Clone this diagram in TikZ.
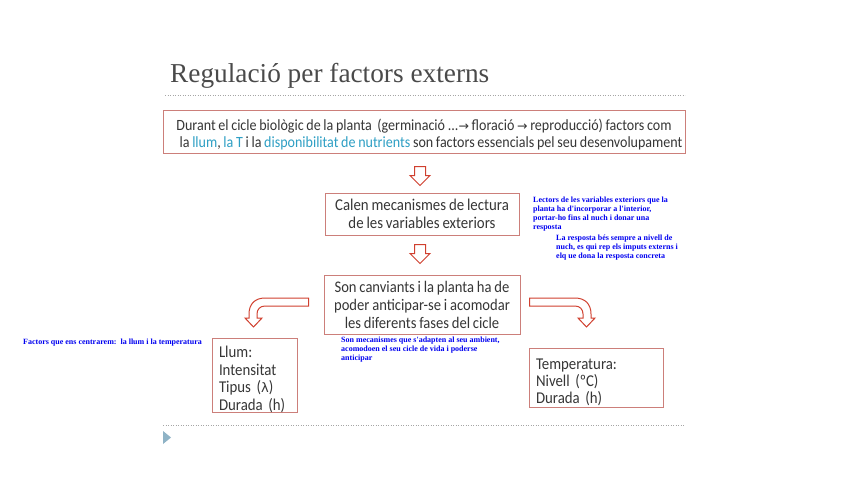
\documentclass[tikz,border=0pt]{standalone}
\usepackage{fontspec}
\setmainfont{Carlito}[FakeStretch=0.9, WordSpace=0.85]
\newfontfamily\titlefont{Liberation Serif}
\newfontfamily\notefont{Liberation Serif}
\newfontfamily\symfont{DejaVu Sans}
\usetikzlibrary{calc}
\definecolor{boxred}{HTML}{CC7F7A}
\definecolor{arrred}{HTML}{D0402F}
\definecolor{txtgray}{HTML}{363636}
\definecolor{teal}{HTML}{2E9FC4}
\definecolor{titlegray}{HTML}{4A4A4A}
\definecolor{noteblue}{HTML}{0000F0}
\definecolor{tri}{HTML}{8FB3C6}
\tikzset{
  mainbox/.style={draw=boxred, line width=1pt, inner sep=0pt, align=center, text=txtgray},
  listbox/.style={draw=boxred, line width=1pt, inner xsep=7pt, inner ysep=0pt, align=left, text=txtgray},
  harrow/.style={draw=arrred, line width=1pt, fill=white, line join=miter},
  dotline/.style={draw=black!35, line width=0.8pt, dash pattern=on 1.2pt off 1.3pt},
  note/.style={text=noteblue, font=\notefont\bfseries\fontsize{8}{9}\selectfont, align=left, inner sep=0pt, anchor=north west}
}
\newcommand\hollowdown[1]{%
  \path[harrow] ($(#1)+(-5.5,0)$) -- ++(0,9) -- ++(-4.5,0) -- ++(10,10) -- ++(10,-10) -- ++(-4.5,0) -- ++(0,-9) -- cycle;}
\newcommand\rarr{{\symfont\fontsize{12.5}{17}\selectfont →}}
\begin{document}
\begin{tikzpicture}[x=1pt,y=-1pt]
\useasboundingbox[fill=white] (0,0) rectangle (848,477);

% title
\node[anchor=base west, inner sep=0pt, text=titlegray, font=\titlefont\fontsize{27.3}{30}\selectfont] (title) at (170,82) {Regulació per factors externs};
\coordinate (d1a) at (165,95);
\coordinate (d1b) at (685,95);
\draw[dotline] (d1a) -- (d1b);

% box 1
\node[mainbox, minimum width=522pt, minimum height=43pt, font=\fontsize{15.6}{17}\selectfont] (b1) at (424,131.5)
{\rule{0pt}{17pt}Durant el cicle biològic de la planta\ \ (germinació ...\rarr\ floració \rarr\ reproducció) factors com\\
\hspace*{14pt}la \textcolor{teal}{llum}, \textcolor{teal}{la T} i la \textcolor{teal}{disponibilitat de nutrients} son factors essencials pel seu desenvolupament};

% box 2
\node[mainbox, minimum width=194pt, minimum height=42pt, font=\fontsize{16.5}{18}\selectfont] (b2) at (422,214)
{Calen mecanismes de lectura\\de les variables exteriors};

% box 3
\node[mainbox, minimum width=196pt, minimum height=59pt, font=\fontsize{16.2}{18}\selectfont] (b3) at (422,304.5)
{Son canviants i la planta ha de\\poder anticipar-se i acomodar\\les diferents fases del cicle};

% list boxes
\node[listbox, minimum width=85pt, minimum height=71pt, text width=71pt, font=\fontsize{16.5}{17.5}\selectfont] (llum) at (254.5,375.5)
{\rule{0pt}{19pt}Llum:\\Intensitat\\Tipus ({\symfont\fontsize{13}{17}\selectfont λ})\\Durada (h)};
\node[listbox, minimum width=134pt, minimum height=59pt, text width=120pt, font=\fontsize{16.5}{17}\selectfont] (temp) at (596,377.5)
{\rule{0pt}{20pt}Temperatura:\\Nivell (ºC)\\Durada (h)};

% down arrows between boxes
\coordinate (a1) at ($(b1.south)+(-4,13)$);
\hollowdown{a1}
\coordinate (a2) at ($(b2.south)+(-2,9)$);
\hollowdown{a2}

% curved arrows
\coordinate (lstart) at ($(b3.west)+(-15,0)$);
\path[harrow] ($(lstart)+(0,-6.5)$) -- (265,298) .. controls (255,298) and (249,304) .. (249,314) -- (249,318) -- (245,318) -- (253.5,327) -- (262,318) -- (257,318) -- (257,314) .. controls (257,309.5) and (260,306) .. (265,306) -- ($(lstart)+(0,1.5)$) -- cycle;
\coordinate (rstart) at ($(b3.east)+(9,0)$);
\path[harrow] ($(rstart)+(0,-6.5)$) -- (575,298) .. controls (585,298) and (591,304) .. (591,314) -- (591,318) -- (595,318) -- (586.5,327) -- (578,318) -- (583,318) -- (583,314) .. controls (583,309.5) and (580,306) .. (575,306) -- ($(rstart)+(0,1.5)$) -- cycle;

% bottom line and marker
\coordinate (d2a) at (163,425);
\coordinate (d2b) at (685,425);
\draw[dotline] (d2a) -- (d2b);
\fill[tri] (163,431) -- (171,437.5) -- (163,444) -- cycle;

% blue notes
\node[note] (n1) at (533,196.5) {Lectors de les variables exteriors que la\\planta ha d'incorporar a l'interior,\\portar-ho fins al nuch i donar una\\resposta};
\node[note] (n2) at (556,234.5) {La resposta bés sempre a nivell de\\nuch, es qui rep els imputs externs i\\elq ue dona la resposta concreta};
\node[note] (n3) at (341,337) {Son mecanismes que s'adapten al seu ambient,\\acomodoen el seu cicle de vida i poderse\\anticipar};
\node[note] (n4) at (23,339) {Factors que ens centrarem:\ \ la llum i la temperatura};
\end{tikzpicture}
\end{document}
